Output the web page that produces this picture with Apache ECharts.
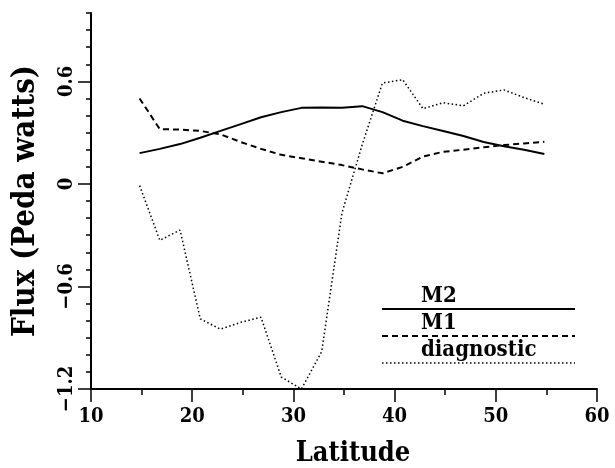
<!DOCTYPE html>
<html>
<head>
<meta charset="utf-8">
<script src="https://cdn.jsdelivr.net/npm/echarts@6/dist/echarts.min.js"></script>
<style>
  html, body { margin: 0; padding: 0; background: #fff; }
  #chart { width: 615px; height: 468px; }
</style>
</head>
<body>
<div id="chart"></div>
<script>
// Latitudes of the flux profiles (2-degree grid)
const latitudes = [14.8, 16.8, 18.8, 20.8, 22.8, 24.8, 26.8, 28.8, 30.8, 32.8, 34.8,
                   36.8, 38.8, 40.8, 42.8, 44.8, 46.8, 48.8, 50.8, 52.8, 54.8];

// Meridional flux, Peda watts
const fluxM2 = [0.18, 0.205, 0.233, 0.27, 0.31, 0.35, 0.39, 0.42, 0.445, 0.447, 0.445,
                0.455, 0.42, 0.37, 0.338, 0.31, 0.28, 0.245, 0.22, 0.2, 0.175];
const fluxM1 = [0.50, 0.32, 0.318, 0.31, 0.29, 0.245, 0.205, 0.17, 0.15, 0.13, 0.11,
                0.085, 0.062, 0.1, 0.16, 0.188, 0.2, 0.214, 0.227, 0.237, 0.246];
const fluxDiagnostic = [-0.01, -0.33, -0.27, -0.79, -0.85, -0.81, -0.78, -1.13, -1.2, -0.98, -0.17,
                        0.23, 0.59, 0.61, 0.44, 0.475, 0.457, 0.53, 0.55, 0.505, 0.466];

const seriesNames = ['M2', 'M1', 'diagnostic'];
const yLabelValues = [-1.2, -0.6, 0, 0.6];

const FONT = '"DejaVu Serif Condensed", "DejaVu Serif", serif';
const INK = '#000';

const pairs = vals => latitudes.map((x, i) => [x, vals[i]]);
const fmtY = v => {
  const r = Math.round(v * 10) / 10;
  if (r === 0) return '0';
  return (r < 0 ? '\u2212' : '') + Math.abs(r);
};

const chart = echarts.init(document.getElementById('chart'), null, { renderer: 'canvas' });

chart.setOption({
  backgroundColor: '#fff',
  animation: false,
  grid: { left: 91, right: 18, top: 13, bottom: 79, outerBoundsMode: 'none', containLabel: false },
  xAxis: [
    { // minor ticks every 5 degrees, carries the axis line
      type: 'value', min: 10, max: 60, interval: 5, position: 'bottom',
      axisLine: { show: true, onZero: false, lineStyle: { color: INK, width: 2 } },
      axisTick: { show: true, length: 6, lineStyle: { color: INK, width: 1.5 } },
      axisLabel: { show: false },
      splitLine: { show: false }
    },
    { // labelled major ticks every 10 degrees
      type: 'value', min: 10, max: 60, interval: 10, position: 'bottom',
      axisLine: { show: false, onZero: false },
      axisTick: { show: true, length: 13, lineStyle: { color: INK, width: 1.5 } },
      axisLabel: { show: true, margin: 18, color: INK, fontFamily: FONT, fontWeight: 'bold', fontSize: 20 },
      splitLine: { show: false },
      name: 'Latitude', nameLocation: 'middle', nameGap: 51,
      nameTextStyle: { color: INK, fontFamily: FONT, fontWeight: 'bold', fontSize: 27, padding: [0, 0, 0, 18] }
    }
  ],
  yAxis: [
    { // minor ticks every 0.1, carries the axis line
      type: 'value', min: -1.2, max: 1.0, interval: 0.1, position: 'left',
      axisLine: { show: true, onZero: false, lineStyle: { color: INK, width: 2 } },
      axisTick: { show: true, length: 5, lineStyle: { color: INK, width: 1.5 } },
      axisLabel: { show: false },
      splitLine: { show: false }
    },
    { // labelled major ticks every 0.6
      type: 'value', min: -1.2, max: 1.0, interval: 0.6, position: 'left',
      axisLine: { show: false, onZero: false },
      axisTick: { show: true, length: 13, customValues: yLabelValues, lineStyle: { color: INK, width: 1.5 } },
      axisLabel: {
        show: true, rotate: 90, margin: 14, customValues: yLabelValues,
        color: INK, fontFamily: FONT, fontWeight: 'bold', fontSize: 20,
        formatter: v => (Math.abs(v - 1.0) < 1e-6 ? '' : fmtY(v))
      },
      splitLine: { show: false },
      name: 'Flux (Peda watts)', nameLocation: 'middle', nameGap: 50,
      nameTextStyle: { color: INK, fontFamily: FONT, fontWeight: 'bold', fontSize: 31 }
    }
  ],
  series: [
    {
      name: seriesNames[0], type: 'line', data: pairs(fluxM2), symbol: 'none',
      xAxisIndex: 0, yAxisIndex: 0,
      lineStyle: { color: INK, width: 2, type: 'solid' }
    },
    {
      name: seriesNames[1], type: 'line', data: pairs(fluxM1), symbol: 'none',
      xAxisIndex: 0, yAxisIndex: 0,
      lineStyle: { color: INK, width: 2, type: [6, 4] }
    },
    {
      name: seriesNames[2], type: 'line', data: pairs(fluxDiagnostic), symbol: 'none',
      xAxisIndex: 0, yAxisIndex: 0,
      lineStyle: { color: INK, width: 1.5, type: [1.5, 2.5] }
    }
  ],
  // Key: label above a sample of each line style
  graphic: [
    { type: 'line', shape: { x1: 382, y1: 309, x2: 575, y2: 309 }, style: { stroke: INK, lineWidth: 2 } },
    { type: 'line', shape: { x1: 382, y1: 336, x2: 575, y2: 336 }, style: { stroke: INK, lineWidth: 2, lineDash: [6, 4] } },
    { type: 'line', shape: { x1: 382, y1: 363, x2: 575, y2: 363 }, style: { stroke: INK, lineWidth: 1.5, lineDash: [1.5, 2.5] } },
    { type: 'text', x: 421, y: 307, style: { text: seriesNames[0], fill: INK, font: 'bold 22px ' + FONT, textVerticalAlign: 'bottom' } },
    { type: 'text', x: 421, y: 334, style: { text: seriesNames[1], fill: INK, font: 'bold 22px ' + FONT, textVerticalAlign: 'bottom' } },
    { type: 'text', x: 421, y: 361, style: { text: seriesNames[2], fill: INK, font: 'bold 22px ' + FONT, textVerticalAlign: 'bottom' } }
  ]
});
</script>
</body>
</html>
